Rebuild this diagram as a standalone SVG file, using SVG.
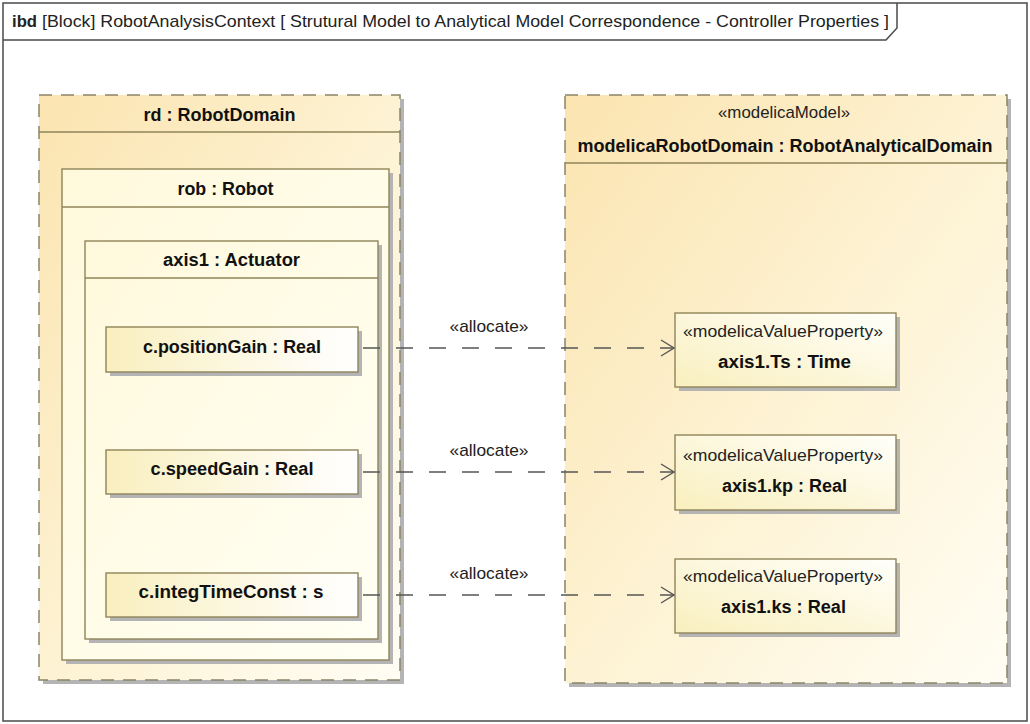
<svg xmlns="http://www.w3.org/2000/svg" width="1030" height="724" viewBox="0 0 1030 724">
<defs>
<linearGradient id="gBig" x1="0" y1="0" x2="1" y2="1">
<stop offset="0" stop-color="#fbe4b0"/>
<stop offset="0.5" stop-color="#fdf2d2"/>
<stop offset="1" stop-color="#fffdf4"/>
</linearGradient>
<linearGradient id="gInner" x1="0" y1="0" x2="1" y2="1">
<stop offset="0" stop-color="#fff9dc"/>
<stop offset="1" stop-color="#fffff4"/>
</linearGradient>
<linearGradient id="gPart" x1="0" y1="0" x2="1" y2="0">
<stop offset="0" stop-color="#f9efbf"/>
<stop offset="1" stop-color="#ffffff"/>
</linearGradient>
<linearGradient id="gVal" x1="0" y1="1" x2="1" y2="0">
<stop offset="0" stop-color="#f9efbe"/>
<stop offset="1" stop-color="#fffffa"/>
</linearGradient>
<marker id="open" markerWidth="16" markerHeight="18" refX="14" refY="9" orient="auto" markerUnits="userSpaceOnUse">
<path d="M1,1 L14,9 L1,17" fill="none" stroke="#555" stroke-width="1.4"/>
</marker>
</defs>
<style>
.frame{fill:#fff;stroke:#4a4a4a;stroke-width:1.5}
.shadow{fill:#b4b4b4}
.dashed{stroke:#8a8468;stroke-width:1.5;stroke-dasharray:13 9}
.solid{stroke:#8f8459;stroke-width:1.4}
.hline{stroke:#8f8459;stroke-width:1.3}
.conn{fill:none;stroke:#555;stroke-width:1.5;stroke-dasharray:17 16}
.b{font-family:"Liberation Sans",Arial,sans-serif;font-weight:bold;font-size:18px;fill:#111;text-anchor:middle}
.n{font-family:"Liberation Sans",Arial,sans-serif;font-size:17px;fill:#222;text-anchor:middle}
.t{font-family:"Liberation Sans",Arial,sans-serif;font-size:17px;fill:#222}
</style>
<rect class="frame" x="3" y="3" width="1024" height="718"/>
<path d="M3,40 H886 L897,28 V3" fill="none" stroke="#4a4a4a" stroke-width="1.5"/>
<text class="t" x="12" y="27" font-weight="bold" textLength="25" lengthAdjust="spacingAndGlyphs">ibd</text>
<text class="t" x="42" y="27" textLength="847" lengthAdjust="spacingAndGlyphs">[Block] RobotAnalysisContext [ Strutural Model to Analytical Model Correspondence - Controller Properties ]</text>

<g id="rd">
<rect class="shadow" x="43" y="99" width="361" height="585"/>
<rect x="39" y="95" width="361" height="585" fill="url(#gBig)" class="dashed"/>
<line class="hline" x1="39" y1="132" x2="400" y2="132"/>
<text class="b" x="219.5" y="121" textLength="152" lengthAdjust="spacingAndGlyphs">rd : RobotDomain</text>
</g>
<g id="rob">
<rect class="shadow" x="66" y="173" width="327" height="491"/>
<rect x="62" y="169" width="327" height="491" fill="url(#gInner)" class="solid"/>
<line class="hline" x1="62" y1="207" x2="389" y2="207"/>
<text class="b" x="225.5" y="195" textLength="96" lengthAdjust="spacingAndGlyphs">rob : Robot</text>
</g>
<g id="axis1">
<rect class="shadow" x="89" y="245" width="293" height="398"/>
<rect x="85" y="241" width="293" height="398" fill="url(#gInner)" class="solid"/>
<line class="hline" x1="85" y1="278" x2="378" y2="278"/>
<text class="b" x="231.5" y="266" textLength="137" lengthAdjust="spacingAndGlyphs">axis1 : Actuator</text>
</g>
<g id="positionGain">
<rect class="shadow" x="110" y="331" width="252" height="45"/>
<rect x="106" y="327" width="252" height="45" fill="url(#gPart)" class="solid"/>
<text class="b" x="232" y="353" textLength="178" lengthAdjust="spacingAndGlyphs">c.positionGain : Real</text>
</g>
<g id="speedGain">
<rect class="shadow" x="110" y="454" width="252" height="44"/>
<rect x="106" y="450" width="252" height="44" fill="url(#gPart)" class="solid"/>
<text class="b" x="232" y="475" textLength="163" lengthAdjust="spacingAndGlyphs">c.speedGain : Real</text>
</g>
<g id="integTimeConst">
<rect class="shadow" x="110" y="577" width="252" height="44"/>
<rect x="106" y="573" width="252" height="44" fill="url(#gPart)" class="solid"/>
<text class="b" x="231" y="598" textLength="185" lengthAdjust="spacingAndGlyphs">c.integTimeConst : s</text>
</g>

<g id="modelicaRobotDomain">
<rect class="shadow" x="569" y="99" width="442" height="588"/>
<rect x="565" y="95" width="442" height="588" fill="url(#gBig)" class="dashed"/>
<line class="hline" x1="565" y1="163" x2="1007" y2="163"/>
<text class="n" x="784" y="118" textLength="132" lengthAdjust="spacingAndGlyphs">«modelicaModel»</text>
<text class="b" x="785" y="152" textLength="415" lengthAdjust="spacingAndGlyphs">modelicaRobotDomain : RobotAnalyticalDomain</text>
</g>
<g id="axis1Ts">
<rect class="shadow" x="679" y="317" width="221" height="74"/>
<rect x="675" y="313" width="221" height="74" fill="url(#gVal)" class="solid"/>
<text class="n" x="783" y="337" textLength="200" lengthAdjust="spacingAndGlyphs">«modelicaValueProperty»</text>
<text class="b" x="784.5" y="368" textLength="133" lengthAdjust="spacingAndGlyphs">axis1.Ts : Time</text>
</g>
<g id="axis1kp">
<rect class="shadow" x="679" y="439" width="221" height="75"/>
<rect x="675" y="435" width="221" height="75" fill="url(#gVal)" class="solid"/>
<text class="n" x="783" y="461" textLength="200" lengthAdjust="spacingAndGlyphs">«modelicaValueProperty»</text>
<text class="b" x="784.5" y="492" textLength="125" lengthAdjust="spacingAndGlyphs">axis1.kp : Real</text>
</g>
<g id="axis1ks">
<rect class="shadow" x="679" y="563" width="221" height="74"/>
<rect x="675" y="559" width="221" height="74" fill="url(#gVal)" class="solid"/>
<text class="n" x="783" y="582" textLength="200" lengthAdjust="spacingAndGlyphs">«modelicaValueProperty»</text>
<text class="b" x="783.5" y="613" textLength="125" lengthAdjust="spacingAndGlyphs">axis1.ks : Real</text>
</g>

<g id="connectors">
<line class="conn" x1="363" y1="348" x2="674" y2="348" marker-end="url(#open)"/>
<line class="conn" x1="363" y1="472" x2="674" y2="472" marker-end="url(#open)"/>
<line class="conn" x1="363" y1="595" x2="674" y2="595" marker-end="url(#open)"/>
<text class="n" x="489" y="332" textLength="79" lengthAdjust="spacingAndGlyphs">«allocate»</text>
<text class="n" x="489" y="456" textLength="79" lengthAdjust="spacingAndGlyphs">«allocate»</text>
<text class="n" x="489" y="579" textLength="79" lengthAdjust="spacingAndGlyphs">«allocate»</text>
</g>
</svg>
